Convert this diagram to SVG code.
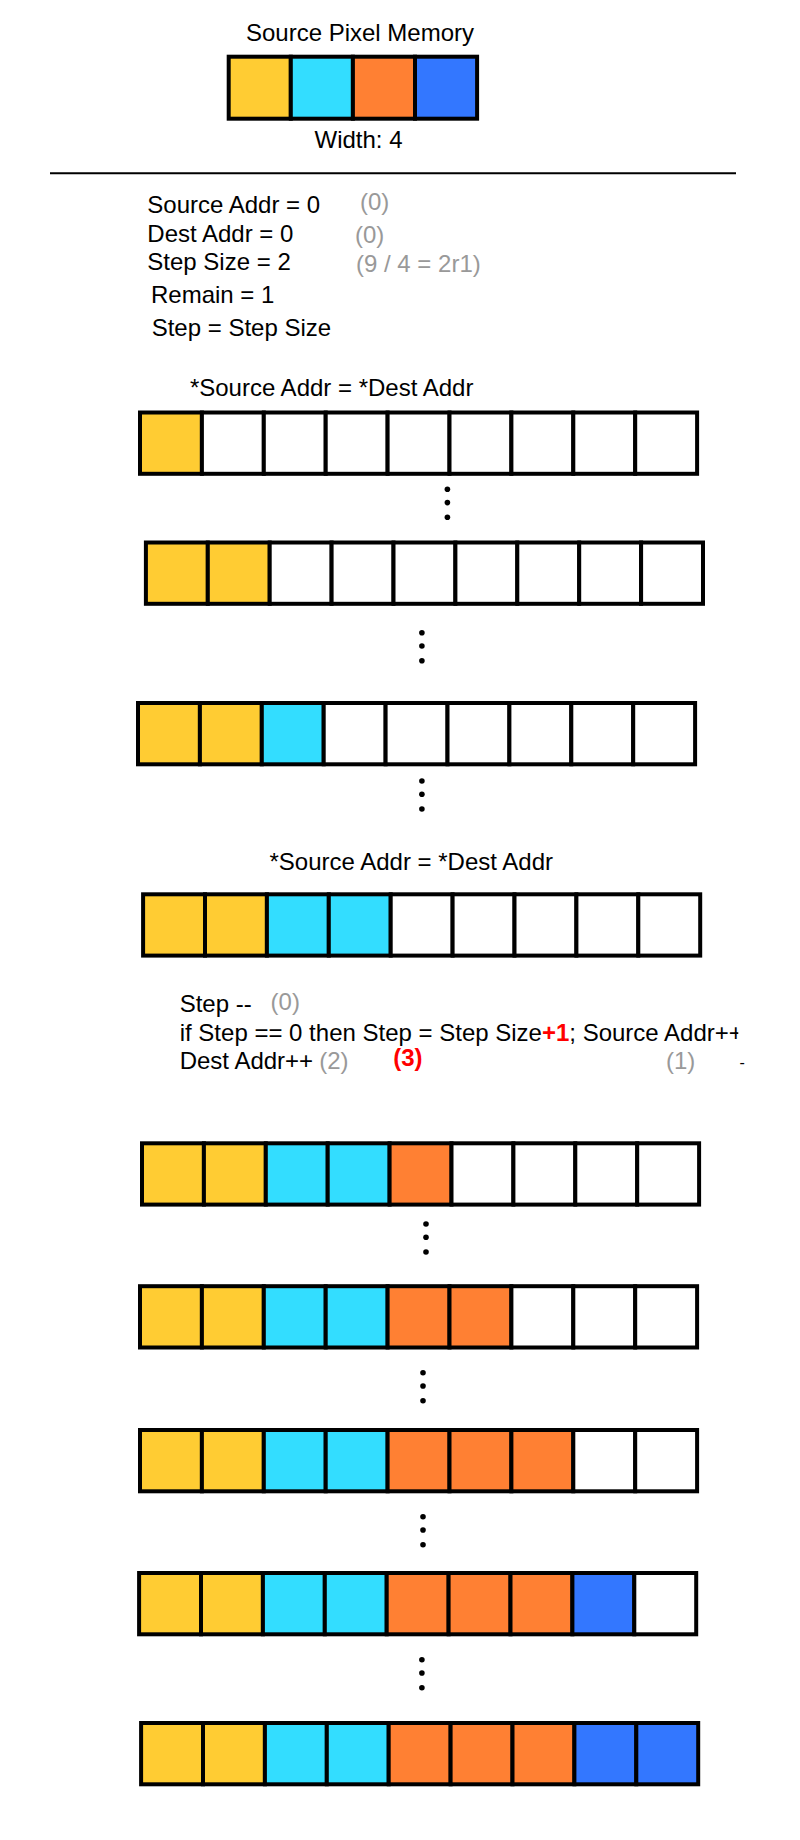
<svg xmlns="http://www.w3.org/2000/svg" width="800" height="1840" viewBox="0 0 800 1840">
<style>
text{font-family:"Liberation Sans",Arial,sans-serif;fill:#000}
.t24{font-size:24px}
.g{fill:#999}
.r{fill:#f00;font-weight:bold}
.c{stroke:#000;stroke-width:4}
.w{fill:#fff}
.y{fill:#FFCC33}
.b{fill:#33DDFF}
.o{fill:#FF8033}
.u{fill:#3377FF}
.dot{fill:#000}
</style>
<defs>
<clipPath id="clipL"><rect x="0" y="0" width="738.3" height="1840"/></clipPath>
<g id="dots"><circle class="dot" cx="0" cy="0" r="2.8"/><circle class="dot" cx="0" cy="13.3" r="2.8"/><circle class="dot" cx="0" cy="28" r="2.8"/></g>
</defs>

<g id="source-memory">
<text class="t24" x="360" y="41" text-anchor="middle">Source Pixel Memory</text>
<rect class="c y" x="228.7" y="56.7" width="62.1" height="62"/>
<rect class="c b" x="290.8" y="56.7" width="62.1" height="62"/>
<rect class="c o" x="352.9" y="56.7" width="62.1" height="62"/>
<rect class="c u" x="415" y="56.7" width="62.1" height="62"/>
<text class="t24" x="358.5" y="148" text-anchor="middle">Width: 4</text>
</g>

<line x1="50" y1="173.3" x2="736" y2="173.3" stroke="#000" stroke-width="2"/>

<g id="init">
<text class="t24" x="147.3" y="213">Source Addr = 0</text>
<text class="t24 g" x="360" y="210">(0)</text>
<text class="t24" x="147.3" y="241.5">Dest Addr = 0</text>
<text class="t24 g" x="355" y="243">(0)</text>
<text class="t24" x="147.3" y="270">Step Size = 2</text>
<text class="t24 g" x="356" y="271.5">(9 / 4 = 2r1)</text>
<text class="t24" x="151" y="302.5">Remain = 1</text>
<text class="t24" x="151.7" y="336">Step = Step Size</text>
</g>

<text class="t24" x="189.9" y="396">*Source Addr = *Dest Addr</text>

<g id="row1" transform="translate(140,412.5)">
<rect class="c y" x="0" y="0" width="61.9" height="61.3"/>
<rect class="c w" x="61.9" y="0" width="61.9" height="61.3"/>
<rect class="c w" x="123.8" y="0" width="61.9" height="61.3"/>
<rect class="c w" x="185.7" y="0" width="61.9" height="61.3"/>
<rect class="c w" x="247.6" y="0" width="61.9" height="61.3"/>
<rect class="c w" x="309.5" y="0" width="61.9" height="61.3"/>
<rect class="c w" x="371.4" y="0" width="61.9" height="61.3"/>
<rect class="c w" x="433.3" y="0" width="61.9" height="61.3"/>
<rect class="c w" x="495.2" y="0" width="61.9" height="61.3"/>
</g>
<use href="#dots" x="447.4" y="489.3"/>

<g id="row2" transform="translate(145.9,542.5)">
<rect class="c y" x="0" y="0" width="61.9" height="61.3"/>
<rect class="c y" x="61.9" y="0" width="61.9" height="61.3"/>
<rect class="c w" x="123.8" y="0" width="61.9" height="61.3"/>
<rect class="c w" x="185.7" y="0" width="61.9" height="61.3"/>
<rect class="c w" x="247.6" y="0" width="61.9" height="61.3"/>
<rect class="c w" x="309.5" y="0" width="61.9" height="61.3"/>
<rect class="c w" x="371.4" y="0" width="61.9" height="61.3"/>
<rect class="c w" x="433.3" y="0" width="61.9" height="61.3"/>
<rect class="c w" x="495.2" y="0" width="61.9" height="61.3"/>
</g>
<use href="#dots" x="421.9" y="632.7"/>

<g id="row3" transform="translate(138,703)">
<rect class="c y" x="0" y="0" width="61.9" height="61.3"/>
<rect class="c y" x="61.9" y="0" width="61.9" height="61.3"/>
<rect class="c b" x="123.8" y="0" width="61.9" height="61.3"/>
<rect class="c w" x="185.7" y="0" width="61.9" height="61.3"/>
<rect class="c w" x="247.6" y="0" width="61.9" height="61.3"/>
<rect class="c w" x="309.5" y="0" width="61.9" height="61.3"/>
<rect class="c w" x="371.4" y="0" width="61.9" height="61.3"/>
<rect class="c w" x="433.3" y="0" width="61.9" height="61.3"/>
<rect class="c w" x="495.2" y="0" width="61.9" height="61.3"/>
</g>
<use href="#dots" x="421.9" y="781"/>

<text class="t24" x="269.5" y="870">*Source Addr = *Dest Addr</text>

<g id="row4" transform="translate(143.1,894.3)">
<rect class="c y" x="0" y="0" width="61.9" height="61.3"/>
<rect class="c y" x="61.9" y="0" width="61.9" height="61.3"/>
<rect class="c b" x="123.8" y="0" width="61.9" height="61.3"/>
<rect class="c b" x="185.7" y="0" width="61.9" height="61.3"/>
<rect class="c w" x="247.6" y="0" width="61.9" height="61.3"/>
<rect class="c w" x="309.5" y="0" width="61.9" height="61.3"/>
<rect class="c w" x="371.4" y="0" width="61.9" height="61.3"/>
<rect class="c w" x="433.3" y="0" width="61.9" height="61.3"/>
<rect class="c w" x="495.2" y="0" width="61.9" height="61.3"/>
</g>

<g id="loop">
<text class="t24" x="179.7" y="1011.7">Step --</text>
<text class="t24 g" x="270.6" y="1010">(0)</text>
<text class="t24" x="179.7" y="1041" clip-path="url(#clipL)">if Step == 0 then Step = Step Size<tspan class="r">+1</tspan>; Source Addr++</text>
<text class="t24" x="179.7" y="1069">Dest Addr++</text>
<text class="t24 g" x="319.2" y="1069">(2)</text>
<text class="t24 r" x="393.2" y="1065.5">(3)</text>
<text class="t24 g" x="666" y="1069">(1)</text>
<text x="739.5" y="1068" font-size="16">-</text>
</g>

<g id="row5" transform="translate(142,1143.3)">
<rect class="c y" x="0" y="0" width="61.9" height="61.3"/>
<rect class="c y" x="61.9" y="0" width="61.9" height="61.3"/>
<rect class="c b" x="123.8" y="0" width="61.9" height="61.3"/>
<rect class="c b" x="185.7" y="0" width="61.9" height="61.3"/>
<rect class="c o" x="247.6" y="0" width="61.9" height="61.3"/>
<rect class="c w" x="309.5" y="0" width="61.9" height="61.3"/>
<rect class="c w" x="371.4" y="0" width="61.9" height="61.3"/>
<rect class="c w" x="433.3" y="0" width="61.9" height="61.3"/>
<rect class="c w" x="495.2" y="0" width="61.9" height="61.3"/>
</g>
<use href="#dots" x="426" y="1224"/>

<g id="row6" transform="translate(140,1286.2)">
<rect class="c y" x="0" y="0" width="61.9" height="61.3"/>
<rect class="c y" x="61.9" y="0" width="61.9" height="61.3"/>
<rect class="c b" x="123.8" y="0" width="61.9" height="61.3"/>
<rect class="c b" x="185.7" y="0" width="61.9" height="61.3"/>
<rect class="c o" x="247.6" y="0" width="61.9" height="61.3"/>
<rect class="c o" x="309.5" y="0" width="61.9" height="61.3"/>
<rect class="c w" x="371.4" y="0" width="61.9" height="61.3"/>
<rect class="c w" x="433.3" y="0" width="61.9" height="61.3"/>
<rect class="c w" x="495.2" y="0" width="61.9" height="61.3"/>
</g>
<use href="#dots" x="423" y="1372.7"/>

<g id="row7" transform="translate(140,1430)">
<rect class="c y" x="0" y="0" width="61.9" height="61.3"/>
<rect class="c y" x="61.9" y="0" width="61.9" height="61.3"/>
<rect class="c b" x="123.8" y="0" width="61.9" height="61.3"/>
<rect class="c b" x="185.7" y="0" width="61.9" height="61.3"/>
<rect class="c o" x="247.6" y="0" width="61.9" height="61.3"/>
<rect class="c o" x="309.5" y="0" width="61.9" height="61.3"/>
<rect class="c o" x="371.4" y="0" width="61.9" height="61.3"/>
<rect class="c w" x="433.3" y="0" width="61.9" height="61.3"/>
<rect class="c w" x="495.2" y="0" width="61.9" height="61.3"/>
</g>
<use href="#dots" x="423" y="1516.7"/>

<g id="row8" transform="translate(139.1,1573)">
<rect class="c y" x="0" y="0" width="61.9" height="61.3"/>
<rect class="c y" x="61.9" y="0" width="61.9" height="61.3"/>
<rect class="c b" x="123.8" y="0" width="61.9" height="61.3"/>
<rect class="c b" x="185.7" y="0" width="61.9" height="61.3"/>
<rect class="c o" x="247.6" y="0" width="61.9" height="61.3"/>
<rect class="c o" x="309.5" y="0" width="61.9" height="61.3"/>
<rect class="c o" x="371.4" y="0" width="61.9" height="61.3"/>
<rect class="c u" x="433.3" y="0" width="61.9" height="61.3"/>
<rect class="c w" x="495.2" y="0" width="61.9" height="61.3"/>
</g>
<use href="#dots" x="421.9" y="1659.7"/>

<g id="row9" transform="translate(141.1,1723)">
<rect class="c y" x="0" y="0" width="61.9" height="61.3"/>
<rect class="c y" x="61.9" y="0" width="61.9" height="61.3"/>
<rect class="c b" x="123.8" y="0" width="61.9" height="61.3"/>
<rect class="c b" x="185.7" y="0" width="61.9" height="61.3"/>
<rect class="c o" x="247.6" y="0" width="61.9" height="61.3"/>
<rect class="c o" x="309.5" y="0" width="61.9" height="61.3"/>
<rect class="c o" x="371.4" y="0" width="61.9" height="61.3"/>
<rect class="c u" x="433.3" y="0" width="61.9" height="61.3"/>
<rect class="c u" x="495.2" y="0" width="61.9" height="61.3"/>
</g>
</svg>
